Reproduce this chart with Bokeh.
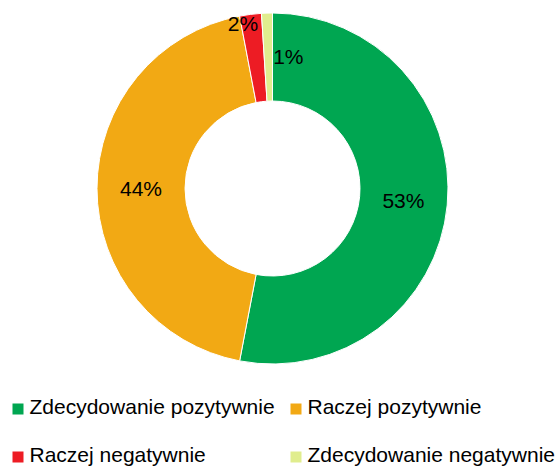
import math
from bokeh.plotting import figure
from bokeh.models import Range1d, ColumnDataSource
from bokeh.core.properties import value
from bokeh.embed import file_html
from bokeh.resources import INLINE

# ---- data ----
categories = ["Zdecydowanie pozytywnie", "Raczej pozytywnie",
              "Raczej negatywnie", "Zdecydowanie negatywnie"]
shares = [53, 44, 2, 1]
labels = ["53%", "44%", "2%", "1%"]
colors = ["#00A651", "#F2A914", "#ED1C24", "#E0ED8E"]

# per-label nudges in pixels (manually placed labels in the original)
label_dx = [0, 0, -13, 20]
label_dy = [0, 0, 35, 1]

W, H = 558, 468
FONT = value("Liberation Sans")

def dx(sx):  # screen x -> data x
    return sx

def dy(sy):  # screen y -> data y
    return H - sy

p = figure(width=W, height=H, output_backend="svg", toolbar_location=None,
           x_range=Range1d(0, W), y_range=Range1d(0, H),
           min_border=0, outline_line_color=None)
p.axis.visible = False
p.grid.visible = False
p.background_fill_color = "white"
p.border_fill_color = "white"

cx, cy = dx(272), dy(188)
r_out, r_in = 175.5, 87.5

total = float(sum(shares))
starts, ends, mids = [], [], []
cum = 0.0
for s in shares:
    a0 = math.pi / 2 - 2 * math.pi * cum / total
    cum += s
    a1 = math.pi / 2 - 2 * math.pi * cum / total
    starts.append(a0)
    ends.append(a1)
    mids.append((a0 + a1) / 2)

src = ColumnDataSource(dict(start=starts, end=ends, color=colors,
                            x=[cx] * 4, y=[cy] * 4))
p.annular_wedge(x="x", y="y", inner_radius=r_in, outer_radius=r_out,
                start_angle="start", end_angle="end", direction="clock",
                fill_color="color", line_color="white", line_width=1,
                source=src)

r_lab = (r_out + r_in) / 2
lx = [cx + r_lab * math.cos(m) + ddx for m, ddx in zip(mids, label_dx)]
ly = [cy + r_lab * math.sin(m) + ddy for m, ddy in zip(mids, label_dy)]
p.text(x=lx, y=ly, text=labels, text_font=FONT, text_font_size="21px",
       text_color="#000000", text_align="center", text_baseline="middle")

# ---- legend (2 x 2 grid) ----
col_x = [17.5, 295.5]
row_y = [408.5, 456.5]
sq_x, sq_y, tx, ty = [], [], [], []
for i, c in enumerate(categories):
    r, k = divmod(i, 2)
    sq_x.append(dx(col_x[k]))
    sq_y.append(dy(row_y[r]))
    tx.append(dx(col_x[k] + 11.5))
    ty.append(dy(row_y[r] - 2.2))
p.scatter(x=sq_x, y=sq_y, marker="square", size=11, fill_color=colors,
          line_color=None)
p.text(x=tx, y=ty, text=categories, text_font=FONT, text_font_size="21px",
       text_color="#000000", text_align="left", text_baseline="middle")

open("out.html", "w").write(file_html(p, INLINE))
